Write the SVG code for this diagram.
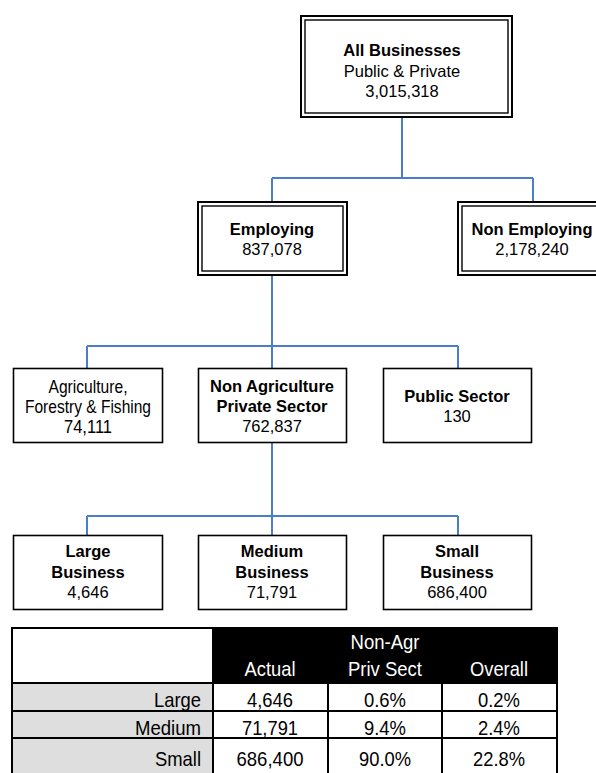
<svg xmlns="http://www.w3.org/2000/svg" width="596" height="773" viewBox="0 0 596 773">
<style>
.bg{fill:#ffffff}
.box{fill:#ffffff;stroke:#000000;stroke-width:1.6}
.out{fill:#ffffff;stroke:#000000;stroke-width:2}
.in{fill:none;stroke:#000000;stroke-width:1.4}
.conn{fill:none;stroke:#4a7ec8;stroke-width:2}
.t{font-family:"Liberation Sans",Arial,sans-serif;font-size:16.5px;fill:#000000;text-anchor:middle}
.b{font-weight:bold}
.n{font-family:"Liberation Sans Narrow","Arial Narrow","Liberation Sans",sans-serif;font-size:19px;fill:#000000;text-anchor:middle}
.tn{font-family:"Liberation Sans Narrow","Arial Narrow","Liberation Sans",sans-serif;font-size:21px;fill:#000000}
.hd{fill:#ffffff;text-anchor:middle}
.c{text-anchor:middle}
.r{text-anchor:end}
.grid{fill:none;stroke:#000000;stroke-width:2}
</style>
<rect class="bg" x="0" y="0" width="596" height="773"/>
<g id="connectors">
<path class="conn" d="M402,118 V178 M272,178 H533 M272,178 V201 M533,178 V201"/>
<path class="conn" d="M272,276 V346 M87,346 H458 M87,346 V368 M272,346 V368 M458,346 V368"/>
<path class="conn" d="M272,443 V516 M87,516 H458 M87,516 V535 M272,516 V535 M458,516 V535"/>
</g>
<g id="all-businesses">
<rect class="out" x="301" y="16" width="211" height="101"/>
<rect class="in" x="305" y="20" width="203" height="93"/>
<text class="t b" x="402" y="56">All Businesses</text>
<text class="t" x="402" y="77">Public &amp; Private</text>
<text class="t" x="402" y="97">3,015,318</text>
</g>
<g id="employing">
<rect class="out" x="198" y="202" width="149" height="73"/>
<rect class="in" x="202" y="206" width="141" height="65"/>
<text class="t b" x="272" y="235">Employing</text>
<text class="t" x="272" y="255">837,078</text>
</g>
<g id="non-employing">
<rect class="out" x="458" y="202" width="149" height="73"/>
<rect class="in" x="462" y="206" width="141" height="65"/>
<text class="t b" x="532" y="235">Non Employing</text>
<text class="t" x="532" y="255">2,178,240</text>
</g>
<g id="agriculture">
<rect class="box" x="13.5" y="368.5" width="149" height="74"/>
<text class="n" x="88" y="393" textLength="79" lengthAdjust="spacingAndGlyphs">Agriculture,</text>
<text class="n" x="88" y="413" textLength="126" lengthAdjust="spacingAndGlyphs">Forestry &amp; Fishing</text>
<text class="n" x="88" y="433" textLength="48" lengthAdjust="spacingAndGlyphs">74,111</text>
</g>
<g id="non-agriculture">
<rect class="box" x="198.5" y="368.5" width="148" height="74"/>
<text class="t b" x="272" y="392">Non Agriculture</text>
<text class="t b" x="272" y="412">Private Sector</text>
<text class="t" x="272" y="432">762,837</text>
</g>
<g id="public-sector">
<rect class="box" x="383.5" y="368.5" width="148" height="74"/>
<text class="t b" x="457" y="402">Public Sector</text>
<text class="t" x="457" y="422">130</text>
</g>
<g id="large-business">
<rect class="box" x="13.5" y="535.5" width="149" height="74"/>
<text class="t b" x="88" y="557">Large</text>
<text class="t b" x="88" y="578">Business</text>
<text class="t" x="88" y="598">4,646</text>
</g>
<g id="medium-business">
<rect class="box" x="198.5" y="535.5" width="148" height="74"/>
<text class="t b" x="272" y="557">Medium</text>
<text class="t b" x="272" y="578">Business</text>
<text class="t" x="272" y="598">71,791</text>
</g>
<g id="small-business">
<rect class="box" x="383.5" y="535.5" width="148" height="74"/>
<text class="t b" x="457" y="557">Small</text>
<text class="t b" x="457" y="578">Business</text>
<text class="t" x="457" y="598">686,400</text>
</g>
<g id="table">
<rect x="213" y="627" width="344" height="56" fill="#000000"/>
<rect x="12" y="683" width="201" height="100" fill="#dedede"/>
<path class="grid" d="M12,628 H557 M12,683 H557 M12,711 H557 M12,738 H557 M12,627 V790 M213,627 V790 M328,683 V790 M442,683 V790 M557,627 V790"/>
<text class="tn hd" x="270" y="676" textLength="51" lengthAdjust="spacingAndGlyphs">Actual</text>
<text class="tn hd" x="385" y="649" textLength="69" lengthAdjust="spacingAndGlyphs">Non-Agr</text>
<text class="tn hd" x="385" y="676" textLength="74" lengthAdjust="spacingAndGlyphs">Priv Sect</text>
<text class="tn hd" x="499" y="676" textLength="58" lengthAdjust="spacingAndGlyphs">Overall</text>
<text class="tn r" x="201" y="707" textLength="47" lengthAdjust="spacingAndGlyphs">Large</text>
<text class="tn r" x="201" y="735" textLength="66" lengthAdjust="spacingAndGlyphs">Medium</text>
<text class="tn r" x="201" y="766" textLength="46" lengthAdjust="spacingAndGlyphs">Small</text>
<text class="tn c" x="270" y="707" textLength="46" lengthAdjust="spacingAndGlyphs">4,646</text>
<text class="tn c" x="270" y="735" textLength="56" lengthAdjust="spacingAndGlyphs">71,791</text>
<text class="tn c" x="270" y="766" textLength="67" lengthAdjust="spacingAndGlyphs">686,400</text>
<text class="tn c" x="385" y="707" textLength="42" lengthAdjust="spacingAndGlyphs">0.6%</text>
<text class="tn c" x="385" y="735" textLength="42" lengthAdjust="spacingAndGlyphs">9.4%</text>
<text class="tn c" x="385" y="766" textLength="52" lengthAdjust="spacingAndGlyphs">90.0%</text>
<text class="tn c" x="499" y="707" textLength="42" lengthAdjust="spacingAndGlyphs">0.2%</text>
<text class="tn c" x="499" y="735" textLength="42" lengthAdjust="spacingAndGlyphs">2.4%</text>
<text class="tn c" x="499" y="766" textLength="52" lengthAdjust="spacingAndGlyphs">22.8%</text>
</g>
</svg>
